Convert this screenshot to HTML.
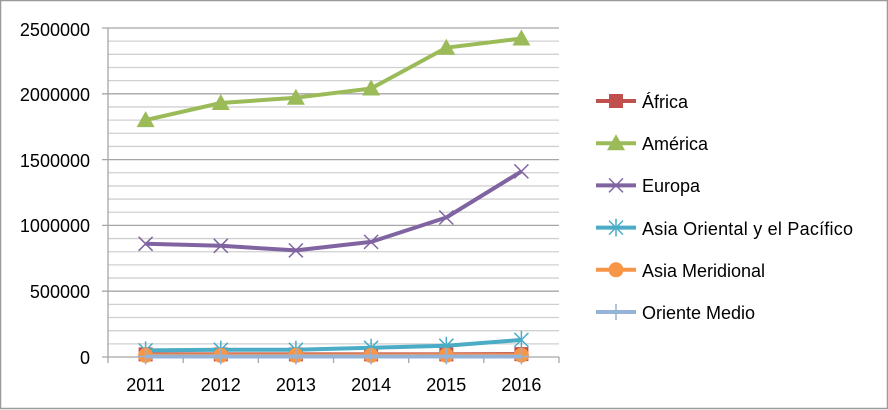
<!DOCTYPE html>
<html><head><meta charset="utf-8"><style>
html,body{margin:0;padding:0;background:#fff}
svg{display:block;font-family:"Liberation Sans",Arial,sans-serif}
</style></head><body>
<svg width="888" height="410" xmlns="http://www.w3.org/2000/svg" xmlns:xlink="http://www.w3.org/1999/xlink">
<defs>
<rect id="sq" x="-7" y="-7" width="14" height="14" fill="#c0504d"/>
<polygon id="tri" points="0,-9 9,7 -9,7" fill="#9bbb59"/>
<path id="xx" d="M-7 -7L7 7M7 -7L-7 7" stroke="#8064a2" stroke-width="1.5"/>
<path id="st" d="M-7 -7L7 7M7 -7L-7 7M0 -9L0 9" stroke="#4bacc6" stroke-width="1.5"/>
<circle id="ci" r="7.5" fill="#f79646"/>
<path id="pl" d="M-8 0L8 0M0 -8L0 8" stroke="#95b3d7" stroke-width="1.5"/>
</defs>
<rect x="0.5" y="0.5" width="887" height="408" fill="#fff" stroke="#9a9a9a" stroke-width="1.5"/>
<g stroke="#d0d0d0" stroke-width="1.3">
<line x1="108" x2="559" y1="343.84" y2="343.84"/><line x1="108" x2="559" y1="330.68" y2="330.68"/><line x1="108" x2="559" y1="317.52" y2="317.52"/><line x1="108" x2="559" y1="304.36" y2="304.36"/>
<line x1="108" x2="559" y1="278.04" y2="278.04"/><line x1="108" x2="559" y1="264.88" y2="264.88"/><line x1="108" x2="559" y1="251.72" y2="251.72"/><line x1="108" x2="559" y1="238.56" y2="238.56"/>
<line x1="108" x2="559" y1="212.24" y2="212.24"/><line x1="108" x2="559" y1="199.08" y2="199.08"/><line x1="108" x2="559" y1="185.92" y2="185.92"/><line x1="108" x2="559" y1="172.76" y2="172.76"/>
<line x1="108" x2="559" y1="146.44" y2="146.44"/><line x1="108" x2="559" y1="133.28" y2="133.28"/><line x1="108" x2="559" y1="120.12" y2="120.12"/><line x1="108" x2="559" y1="106.96" y2="106.96"/>
<line x1="108" x2="559" y1="80.64" y2="80.64"/><line x1="108" x2="559" y1="67.48" y2="67.48"/><line x1="108" x2="559" y1="54.32" y2="54.32"/><line x1="108" x2="559" y1="41.16" y2="41.16"/>
</g>
<g stroke="#a6a6a6" stroke-width="1.3">
<line x1="102" x2="559" y1="357" y2="357"/><line x1="102" x2="559" y1="291.2" y2="291.2"/><line x1="102" x2="559" y1="225.4" y2="225.4"/><line x1="102" x2="559" y1="159.6" y2="159.6"/><line x1="102" x2="559" y1="93.8" y2="93.8"/><line x1="102" x2="559" y1="28" y2="28"/>
<line x1="108" x2="108" y1="28" y2="357"/>
<line x1="108" x2="108" y1="357" y2="363"/><line x1="183.2" x2="183.2" y1="357" y2="363"/><line x1="258.3" x2="258.3" y1="357" y2="363"/><line x1="333.5" x2="333.5" y1="357" y2="363"/><line x1="408.7" x2="408.7" y1="357" y2="363"/><line x1="483.8" x2="483.8" y1="357" y2="363"/><line x1="559" x2="559" y1="357" y2="363"/>
</g>
<g font-size="18" text-anchor="end">
<text x="90" y="364">0</text><text x="90" y="298">500000</text><text x="90" y="232">1000000</text><text x="90" y="167">1500000</text><text x="90" y="101">2000000</text><text x="90" y="36">2500000</text>
</g>
<g font-size="18" text-anchor="middle">
<text x="145.6" y="391">2011</text><text x="220.8" y="391">2012</text><text x="295.9" y="391">2013</text><text x="371.1" y="391">2014</text><text x="446.3" y="391">2015</text><text x="521.4" y="391">2016</text>
</g>
<g fill="none" stroke-width="4" stroke-linejoin="round">
<polyline stroke="#c0504d" points="145.6,354.4 220.8,354.4 295.9,354.4 371.1,354.4 446.3,354.4 521.4,354.1"/>
<use xlink:href="#sq" x="145.6" y="354.4"/><use xlink:href="#sq" x="220.8" y="354.4"/><use xlink:href="#sq" x="295.9" y="354.4"/><use xlink:href="#sq" x="371.1" y="354.4"/><use xlink:href="#sq" x="446.3" y="354.4"/><use xlink:href="#sq" x="521.4" y="354.1"/>
<polyline stroke="#9bbb59" points="145.6,120.1 220.8,103 295.9,97.7 371.1,88.5 446.3,47.7 521.4,38.5"/>
<use xlink:href="#tri" x="145.6" y="120.1"/><use xlink:href="#tri" x="220.8" y="103"/><use xlink:href="#tri" x="295.9" y="97.7"/><use xlink:href="#tri" x="371.1" y="88.5"/><use xlink:href="#tri" x="446.3" y="47.7"/><use xlink:href="#tri" x="521.4" y="38.5"/>
<polyline stroke="#8064a2" points="145.6,243.8 220.8,245.8 295.9,250.4 371.1,241.9 446.3,217.5 521.4,171.4"/>
<use xlink:href="#xx" x="145.6" y="243.8"/><use xlink:href="#xx" x="220.8" y="245.8"/><use xlink:href="#xx" x="295.9" y="250.4"/><use xlink:href="#xx" x="371.1" y="241.9"/><use xlink:href="#xx" x="446.3" y="217.5"/><use xlink:href="#xx" x="521.4" y="171.4"/>
<polyline stroke="#4bacc6" points="145.6,350.4 220.8,349.8 295.9,349.8 371.1,347.8 446.3,345.8 521.4,339.9"/>
<use xlink:href="#st" x="145.6" y="350.4"/><use xlink:href="#st" x="220.8" y="349.8"/><use xlink:href="#st" x="295.9" y="349.8"/><use xlink:href="#st" x="371.1" y="347.8"/><use xlink:href="#st" x="446.3" y="345.8"/><use xlink:href="#st" x="521.4" y="339.9"/>
<polyline stroke="#f79646" points="145.6,355.4 220.8,355.4 295.9,355.4 371.1,355.4 446.3,355.3 521.4,355.2"/>
<use xlink:href="#ci" x="145.6" y="355.4"/><use xlink:href="#ci" x="220.8" y="355.4"/><use xlink:href="#ci" x="295.9" y="355.4"/><use xlink:href="#ci" x="371.1" y="355.4"/><use xlink:href="#ci" x="446.3" y="355.3"/><use xlink:href="#ci" x="521.4" y="355.2"/>
<polyline stroke="#95b3d7" points="145.6,356.5 220.8,356.5 295.9,356.5 371.1,356.5 446.3,356.5 521.4,356.5"/>
<use xlink:href="#pl" x="145.6" y="356.5"/><use xlink:href="#pl" x="220.8" y="356.5"/><use xlink:href="#pl" x="295.9" y="356.5"/><use xlink:href="#pl" x="371.1" y="356.5"/><use xlink:href="#pl" x="446.3" y="356.5"/><use xlink:href="#pl" x="521.4" y="356.5"/>
</g>
<g stroke-width="4">
<line x1="596" x2="636" y1="101" y2="101" stroke="#c0504d"/><use xlink:href="#sq" x="616" y="101"/>
<line x1="596" x2="636" y1="143.2" y2="143.2" stroke="#9bbb59"/><use xlink:href="#tri" x="616" y="143.2"/>
<line x1="596" x2="636" y1="185.4" y2="185.4" stroke="#8064a2"/><use xlink:href="#xx" x="616" y="185.4"/>
<line x1="596" x2="636" y1="227.6" y2="227.6" stroke="#4bacc6"/><use xlink:href="#st" x="616" y="227.6"/>
<line x1="596" x2="636" y1="269.8" y2="269.8" stroke="#f79646"/><use xlink:href="#ci" x="616" y="269.8"/>
<line x1="596" x2="636" y1="312" y2="312" stroke="#95b3d7"/><use xlink:href="#pl" x="616" y="312"/>
</g>
<g font-size="18" textLength="0">
<text x="642" y="108">África</text><text x="642" y="150">América</text><text x="642" y="192">Europa</text><text x="642" y="235" textLength="211">Asia Oriental y el Pacífico</text><text x="642" y="277">Asia Meridional</text><text x="642" y="319">Oriente Medio</text>
</g>
</svg>
</body></html>
